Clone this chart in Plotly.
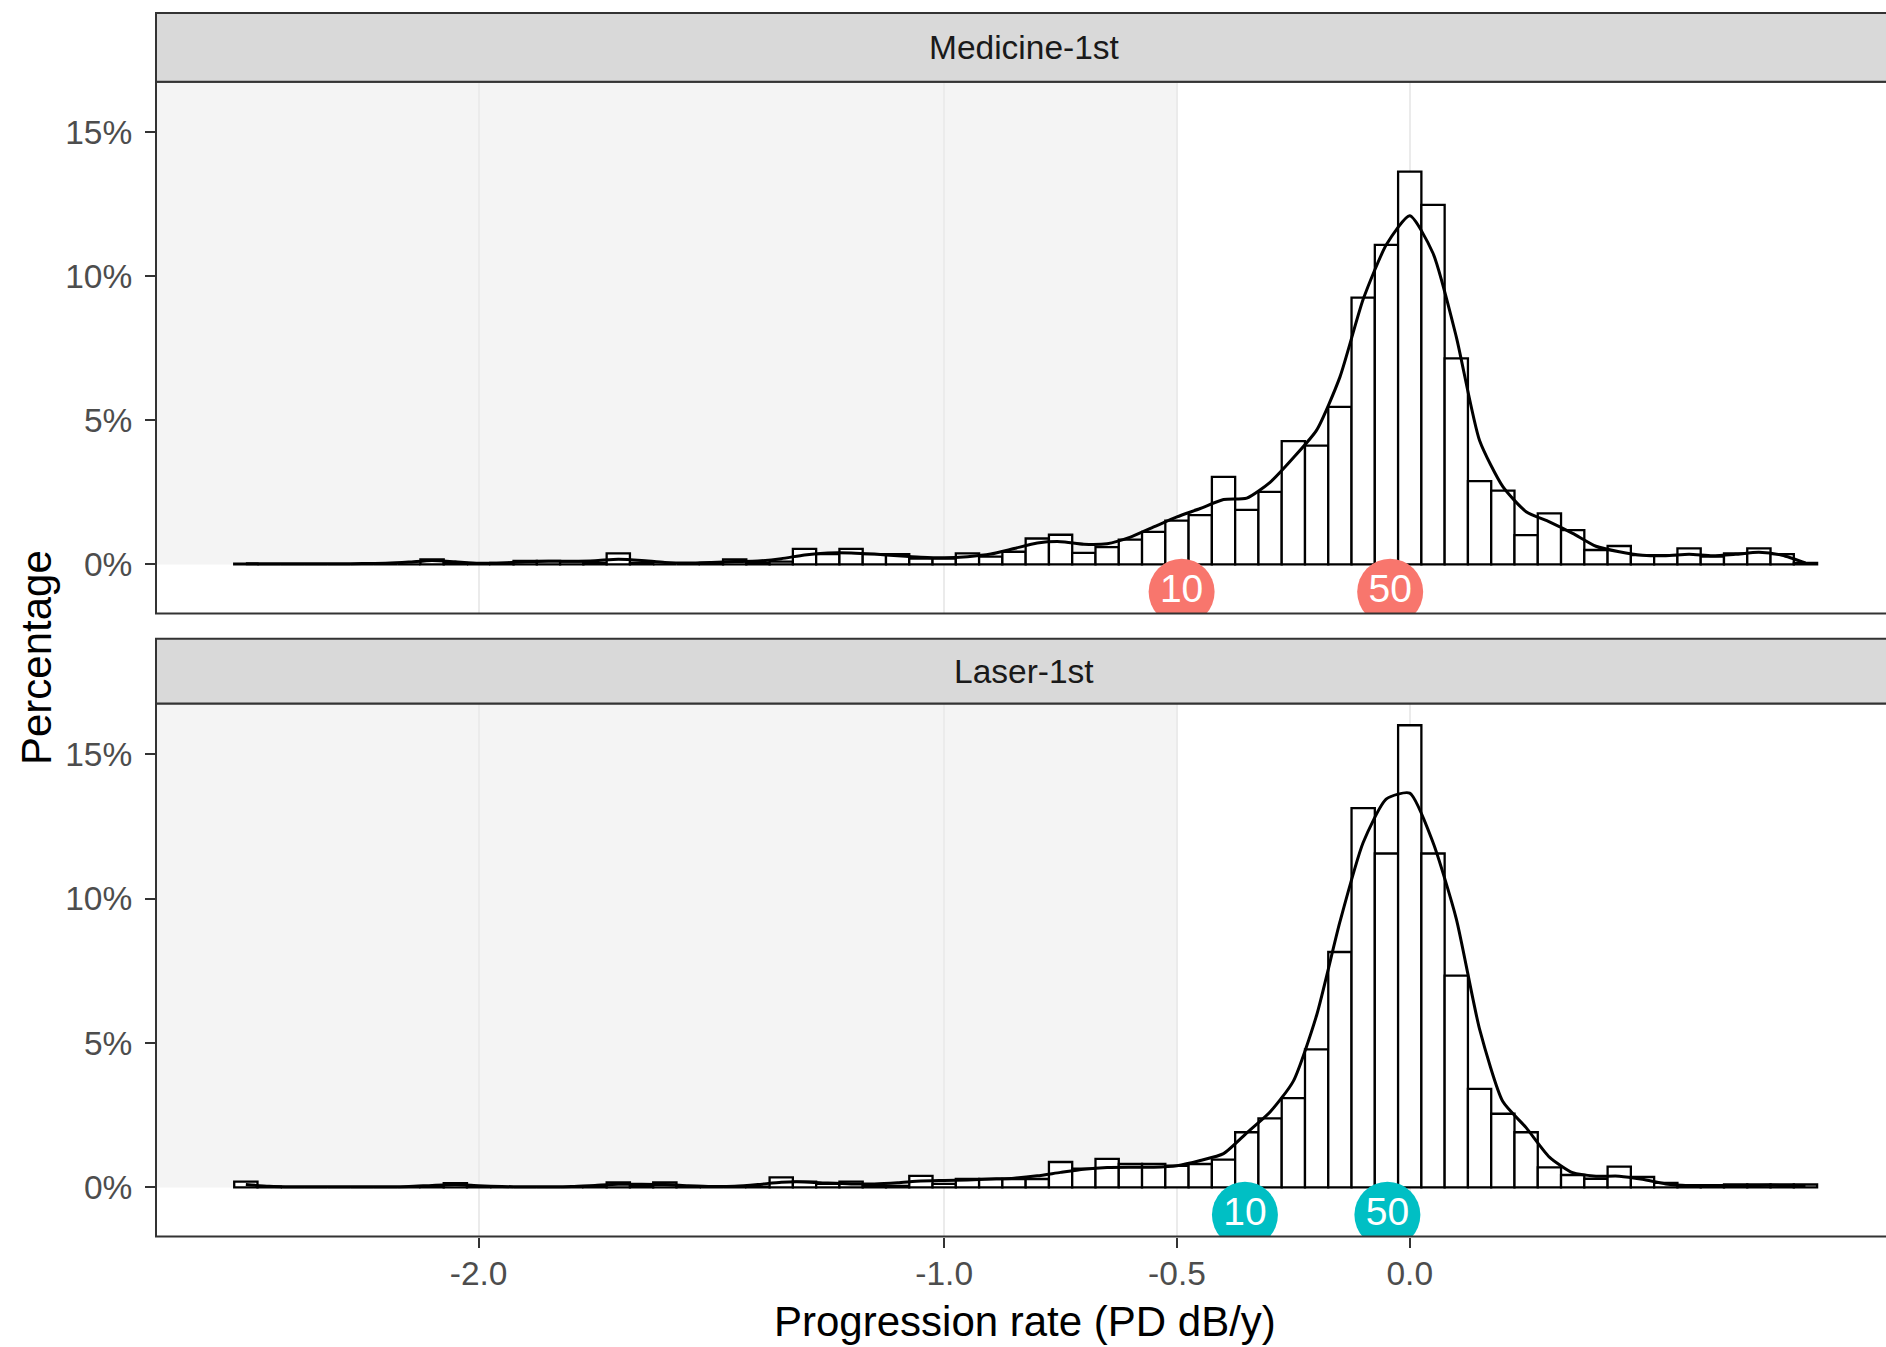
import plotly.graph_objects as go

# ---------------- data ----------------
bin_centers = [-2.50, -2.45, -2.40, -2.35, -2.30, -2.25, -2.20, -2.15, -2.10, -2.05,
               -2.00, -1.95, -1.90, -1.85, -1.80, -1.75, -1.70, -1.65, -1.60, -1.55,
               -1.50, -1.45, -1.40, -1.35, -1.30, -1.25, -1.20, -1.15, -1.10, -1.05,
               -1.00, -0.95, -0.90, -0.85, -0.80, -0.75, -0.70, -0.65, -0.60, -0.55,
               -0.50, -0.45, -0.40, -0.35, -0.30, -0.25, -0.20, -0.15, -0.10, -0.05,
               0.00, 0.05, 0.10, 0.15, 0.20, 0.25, 0.30, 0.35, 0.40, 0.45,
               0.50, 0.55, 0.60, 0.65, 0.70, 0.75, 0.80, 0.85]
bin_width = 0.05

medicine_hist = [0.03, 0, 0, 0, 0, 0, 0, 0, 0.17, 0.05,
                 0, 0.05, 0.12, 0.12, 0.10, 0.05, 0.38, 0.05, 0, 0,
                 0.05, 0.17, 0.05, 0.10, 0.54, 0.36, 0.54, 0.36, 0.36, 0.20,
                 0.20, 0.38, 0.27, 0.44, 0.90, 1.03, 0.40, 0.60, 0.86, 1.13,
                 1.52, 1.71, 3.04, 1.89, 2.52, 4.28, 4.12, 5.47, 9.26, 11.09,
                 13.63, 12.48, 7.15, 2.89, 2.56, 1.02, 1.77, 1.19, 0.50, 0.64,
                 0.32, 0.32, 0.56, 0.27, 0.38, 0.56, 0.36, 0.05]

medicine_density = [0.02, 0.02, 0.02, 0.02, 0.02, 0.03, 0.04, 0.08, 0.14, 0.09,
                    0.04, 0.05, 0.09, 0.11, 0.11, 0.13, 0.18, 0.14, 0.07, 0.05,
                    0.07, 0.10, 0.12, 0.20, 0.33, 0.40, 0.40, 0.36, 0.30, 0.25,
                    0.23, 0.27, 0.36, 0.55, 0.74, 0.79, 0.70, 0.72, 0.95, 1.30,
                    1.65, 1.94, 2.25, 2.30, 2.85, 3.70, 4.66, 6.50, 9.20, 11.10,
                    12.10, 10.80, 7.90, 4.30, 2.70, 1.83, 1.48, 1.08, 0.63, 0.44,
                    0.32, 0.30, 0.35, 0.30, 0.35, 0.42, 0.32, 0.05]

laser_hist = [0.20, 0.03, 0, 0, 0, 0, 0, 0, 0.03, 0.15,
              0.03, 0, 0, 0, 0, 0.03, 0.17, 0.05, 0.17, 0.03,
              0, 0, 0.03, 0.35, 0.20, 0.12, 0.20, 0.05, 0.05, 0.40,
              0.12, 0.29, 0.29, 0.29, 0.29, 0.88, 0.65, 0.99, 0.81, 0.81,
              0.75, 0.81, 0.96, 1.91, 2.39, 3.09, 4.78, 8.15, 13.13, 11.56,
              16.00, 11.56, 7.33, 3.41, 2.55, 1.91, 0.69, 0.43, 0.30, 0.72,
              0.36, 0.16, 0.08, 0.08, 0.10, 0.10, 0.10, 0.10]

laser_density = [0.10, 0.04, 0.02, 0.02, 0.02, 0.02, 0.02, 0.03, 0.07, 0.10,
                 0.06, 0.03, 0.02, 0.02, 0.03, 0.07, 0.11, 0.11, 0.10, 0.06,
                 0.03, 0.04, 0.10, 0.18, 0.19, 0.15, 0.12, 0.12, 0.16, 0.22,
                 0.24, 0.26, 0.29, 0.32, 0.40, 0.52, 0.63, 0.69, 0.70, 0.70,
                 0.75, 0.93, 1.17, 1.89, 2.61, 3.68, 5.96, 9.19, 11.94, 13.45,
                 13.65, 11.94, 9.30, 5.48, 2.97, 2.07, 1.05, 0.51, 0.39, 0.39,
                 0.28, 0.12, 0.06, 0.05, 0.06, 0.07, 0.07, 0.07]

panel_names = ["Medicine-1st", "Laser-1st"]
label_colors = ["#F8766D", "#00BFC4"]
percentile_text = ["10", "50"]
medicine_quantiles = [-0.49, -0.042]
laser_quantiles = [-0.354, -0.048]
label_y = [-0.95, -0.95]

shade_threshold = -0.5
x_tickvals = [-2.0, -1.0, -0.5, 0.0]
x_ticktext = ["-2.0", "-1.0", "-0.5", "0.0"]
y_tickvals = [0, 5, 10, 15]
y_ticktext = ["0%", "5%", "10%", "15%"]

x_range = [-2.693, 1.023]
y_range = [-1.7, 16.75]

# ---------------- layout geometry ----------------
W, H = 1886, 1347
def py(px):
    return (H - px) / H

top_dom = [py(613.4), py(81.8)]
bot_dom = [py(1236.5), py(703.6)]
top_strip = [py(81.8), py(13)]
bot_strip = [py(703.6), py(638.7)]

FONT = "Liberation Sans, Arial, sans-serif"
TICK_SIZE = 33.5
TITLE_SIZE = 42
BORDER = "#333333"

fig = go.Figure()

series = [
    (medicine_hist, medicine_density, medicine_quantiles, "x", "y"),
    (laser_hist, laser_density, laser_quantiles, "x2", "y2"),
]

for i, (hist, dens, quants, xa, ya) in enumerate(series):
    fig.add_trace(go.Bar(
        x=bin_centers, y=hist, width=bin_width,
        marker=dict(color="white", line=dict(color="black", width=2.3)),
        xaxis=xa, yaxis=ya, showlegend=False, hoverinfo="skip"))
    fig.add_trace(go.Scatter(
        x=bin_centers, y=dens, mode="lines",
        line=dict(color="black", width=3, shape="spline", smoothing=0.6),
        xaxis=xa, yaxis=ya, showlegend=False, hoverinfo="skip"))
    fig.add_trace(go.Scatter(
        x=quants, y=label_y, mode="markers+text",
        marker=dict(size=66, color=label_colors[i], line=dict(width=0)),
        text=percentile_text, textposition="middle center",
        textfont=dict(color="white", size=39, family=FONT),
        cliponaxis=True,
        xaxis=xa, yaxis=ya, showlegend=False, hoverinfo="skip"))

axis_common_x = dict(range=x_range, showgrid=True, gridcolor="#EBEBEB", gridwidth=1.5,
                     tickvals=x_tickvals, ticktext=x_ticktext, zeroline=False,
                     showline=False, automargin=False, domain=[0, 1])
axis_common_y = dict(range=y_range, showgrid=False, zeroline=False, showline=False,
                     tickvals=y_tickvals, ticktext=y_ticktext, ticks="outside",
                     ticklen=10, tickwidth=2, tickcolor=BORDER,
                     tickfont=dict(family=FONT, size=TICK_SIZE, color="#4D4D4D"),
                     ticklabelstandoff=6, automargin=False)

fig.update_layout(
    template="none",
    width=W, height=H,
    margin=dict(l=156, r=0, t=0, b=0, pad=0),
    paper_bgcolor="white", plot_bgcolor="white",
    barmode="overlay",
    xaxis=dict(**axis_common_x, anchor="y", showticklabels=False, ticks=""),
    yaxis=dict(**axis_common_y, domain=top_dom, anchor="x"),
    xaxis2=dict(**axis_common_x, anchor="y2", matches="x", showticklabels=True,
                ticks="outside", ticklen=10, tickwidth=2, tickcolor=BORDER,
                tickfont=dict(family=FONT, size=TICK_SIZE, color="#4D4D4D"),
                ticklabelstandoff=-3),
    yaxis2=dict(**axis_common_y, domain=bot_dom, anchor="x2"),
)

shapes = []
for xr, yr in [("x", "y"), ("x2", "y2")]:
    shapes.append(dict(type="rect", xref=xr, yref=yr, x0=x_range[0], x1=shade_threshold,
                       y0=0, y1=y_range[1], fillcolor="#F4F4F4", line=dict(width=0),
                       layer="below"))
for dom, strip in [(top_dom, top_strip), (bot_dom, bot_strip)]:
    shapes.append(dict(type="rect", xref="paper", yref="paper", x0=0, x1=1.004,
                       y0=dom[0], y1=dom[1], line=dict(color=BORDER, width=2),
                       fillcolor="rgba(0,0,0,0)", layer="above"))
    shapes.append(dict(type="rect", xref="paper", yref="paper", x0=0, x1=1.004,
                       y0=strip[0], y1=strip[1], line=dict(color=BORDER, width=2),
                       fillcolor="#D9D9D9", layer="above"))
fig.update_layout(shapes=shapes)

annotations = []
for name, strip in zip(panel_names, [top_strip, bot_strip]):
    annotations.append(dict(text=name, xref="paper", yref="paper",
                            x=(1024 - 156) / (W - 156), y=(strip[0] + strip[1]) / 2,
                            xanchor="center", yanchor="middle", showarrow=False,
                            font=dict(family=FONT, size=TICK_SIZE, color="#1A1A1A")))
annotations.append(dict(text="Progression rate (PD dB/y)", xref="paper", yref="paper",
                        x=(1025 - 156) / (W - 156), y=py(1321), xanchor="center",
                        yanchor="middle", showarrow=False,
                        font=dict(family=FONT, size=TITLE_SIZE, color="black")))
annotations.append(dict(text="Percentage", xref="paper", yref="paper",
                        x=(36 - 156) / (W - 156), y=py(658), xanchor="center",
                        yanchor="middle", showarrow=False, textangle=-90,
                        font=dict(family=FONT, size=TITLE_SIZE, color="black")))
fig.update_layout(annotations=annotations)

fig.write_html("out.html",
               config={"displayModeBar": False},
               post_script="document.body.style.margin='0';document.body.style.overflow='hidden';")
